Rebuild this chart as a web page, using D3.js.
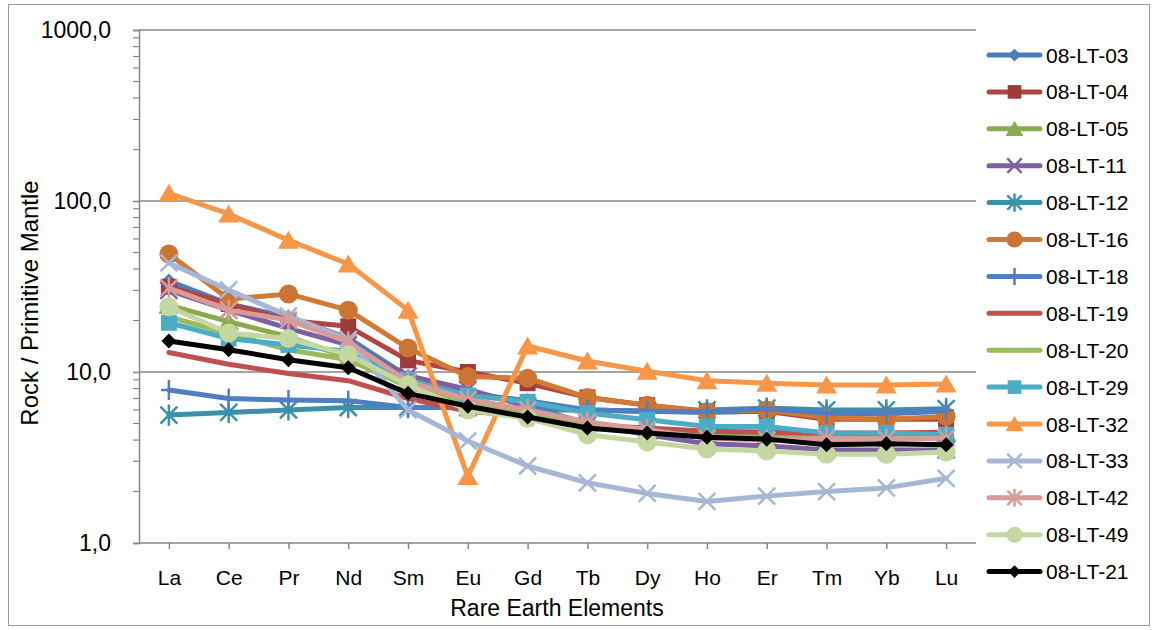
<!DOCTYPE html>
<html>
<head>
<meta charset="utf-8">
<script src="https://cdn.jsdelivr.net/npm/d3@7"></script>
<style>
  html, body { margin: 0; padding: 0; background: #ffffff; }
  svg { display: block; }
  text { font-family: "Liberation Sans", Arial, sans-serif; fill: #000; }
</style>
</head>
<body>
<svg id="chart" width="1154" height="630"></svg>
<script>
// ---------- data ----------
const elements = ["La","Ce","Pr","Nd","Sm","Eu","Gd","Tb","Dy","Ho","Er","Tm","Yb","Lu"];
const seriesNames = ["08-LT-03","08-LT-04","08-LT-05","08-LT-11","08-LT-12","08-LT-16","08-LT-18","08-LT-19","08-LT-20","08-LT-29","08-LT-32","08-LT-33","08-LT-42","08-LT-49","08-LT-21"];
const lt03 = [34, 25, 21, 15.8, 9.4, 7.5, 6.8, 6.0, 5.9, 5.8, 5.9, 5.7, 5.7, 5.9];
const lt04 = [31.5, 25, 20, 18.5, 11.7, 10.0, 8.6, 7.1, 6.4, 5.9, 5.9, 5.3, 5.3, 5.3];
const lt05 = [24.6, 19.7, 16.1, 12.1, 8.6, 7.0, 5.9, 5.0, 4.5, 4.3, 4.3, 4.2, 4.2, 4.4];
const lt11 = [30, 23, 18, 14.4, 9.5, 7.9, 6.3, 5.0, 4.3, 3.8, 3.7, 3.5, 3.5, 3.5];
const lt12 = [5.6, 5.8, 6.0, 6.2, 6.2, 6.2, 6.0, 6.0, 5.9, 6.0, 6.15, 6.0, 6.0, 6.1];
const lt16 = [49, 26.7, 28.6, 23, 13.8, 9.4, 9.2, 7.1, 6.4, 5.85, 6.0, 5.4, 5.3, 5.5];
const lt18 = [7.85, 7.0, 6.85, 6.8, 6.2, 6.2, 6.2, 6.0, 5.9, 5.85, 6.1, 5.75, 5.75, 5.95];
const lt19 = [13, 11.1, 9.8, 8.9, 7.0, 5.9, 5.5, 4.9, 4.7, 4.5, 4.45, 4.4, 4.4, 4.45];
const lt20 = [21, 16.8, 13.5, 11.8, 8.2, 6.6, 5.6, 4.8, 4.4, 4.2, 4.1, 4.0, 4.1, 4.3];
const lt29 = [19.4, 15.7, 14.4, 13.2, 9.0, 7.3, 6.7, 5.75, 5.25, 4.8, 4.8, 4.4, 4.4, 4.3];
const lt32 = [111, 84, 59, 42.8, 23, 2.45, 14.2, 11.6, 10.1, 8.9, 8.6, 8.4, 8.4, 8.5];
const lt33 = [43.4, 30.2, 21.3, 15.5, 6.0, 3.95, 2.82, 2.25, 1.95, 1.75, 1.88, 2.0, 2.1, 2.39];
const lt42 = [31, 23, 20.1, 15.0, 8.8, 6.9, 6.0, 5.1, 4.6, 4.1, 4.0, 4.1, 4.05, 4.1];
const lt49 = [24.1, 16.9, 15.7, 12.6, 8.4, 6.0, 5.35, 4.3, 3.9, 3.55, 3.45, 3.3, 3.3, 3.4];
const lt21 = [15.2, 13.5, 11.8, 10.6, 7.5, 6.3, 5.45, 4.7, 4.4, 4.15, 4.05, 3.75, 3.8, 3.75];
const seriesValues = [lt03, lt04, lt05, lt11, lt12, lt16, lt18, lt19, lt20, lt29, lt32, lt33, lt42, lt49, lt21];
const yTickValues = [1, 10, 100, 1000];
const yTitle = "Rock / Primitive Mantle";
const xTitle = "Rare Earth Elements";

// ---------- styles ----------
const styles = [
  {line:"#4A7EBB", mark:"#4A7EBB", shape:"diamond"},
  {line:"#B04543", mark:"#9C3B38", shape:"square"},
  {line:"#89AB4C", mark:"#89AB4C", shape:"triangle"},
  {line:"#7D60A0", mark:"#7D60A0", shape:"x"},
  {line:"#3A91A8", mark:"#3A91A8", shape:"star"},
  {line:"#D07A36", mark:"#CC7433", shape:"circle"},
  {line:"#4F7FC0", mark:"#4F7FC0", shape:"plus"},
  {line:"#C0504D", mark:"#C0504D", shape:"none"},
  {line:"#9BBB59", mark:"#9BBB59", shape:"none"},
  {line:"#4BACC6", mark:"#4BACC6", shape:"square"},
  {line:"#F79646", mark:"#F79646", shape:"triangle"},
  {line:"#A6B7D6", mark:"#A6B7D6", shape:"x"},
  {line:"#D99B99", mark:"#D99B99", shape:"star"},
  {line:"#C4D7A0", mark:"#C4D7A0", shape:"circle"},
  {line:"#000000", mark:"#000000", shape:"diamond"}
];

const svg = d3.select("#chart");
const plot = {left: 139, right: 976, top: 30, bottom: 543};

// outer border
svg.append("rect").attr("x", 8.5).attr("y", 4.5).attr("width", 1141).attr("height", 621)
  .attr("fill", "#fff").attr("stroke", "#9a9a9a").attr("stroke-width", 1);

const x = d3.scalePoint().domain(elements).range([plot.left, plot.right]).padding(0.5);
const y = d3.scaleLog().domain([1, 1000]).range([plot.bottom, plot.top]);

const gridColor = "#868686";
// gridlines
svg.append("g").selectAll("line").data(yTickValues.filter(v => v > 1)).join("line")
  .attr("x1", plot.left).attr("x2", plot.right)
  .attr("y1", d => y(d)).attr("y2", d => y(d))
  .attr("stroke", gridColor).attr("stroke-width", 1.5);

// y axis (log) with minor ticks
const minorTicks = [];
for (let d = 1; d < 1000; d *= 10) for (let k = 2; k <= 9; k++) minorTicks.push(d * k);
const yAxis = d3.axisLeft(y).tickValues(yTickValues)
  .tickFormat(d => d3.format(".1f")(d).replace(".", ","))
  .tickSize(6).tickPadding(22);
const yg = svg.append("g").attr("transform", `translate(${plot.left},0)`).call(yAxis);
yg.select(".domain").attr("stroke", gridColor).attr("stroke-width", 1.5);
yg.selectAll(".tick line").attr("stroke", gridColor).attr("stroke-width", 1.5);
yg.selectAll(".tick text").attr("font-size", 23).attr("font-family", "Liberation Sans, Arial, sans-serif").attr("fill", "#000");
svg.append("g").selectAll("line").data(minorTicks).join("line")
  .attr("x1", plot.left - 6).attr("x2", plot.left)
  .attr("y1", d => y(d)).attr("y2", d => y(d))
  .attr("stroke", gridColor).attr("stroke-width", 1.2);

// x axis
const xAxis = d3.axisBottom(x).tickSize(6).tickPadding(21).tickSizeOuter(0);
const xg = svg.append("g").attr("transform", `translate(0,${plot.bottom})`).call(xAxis);
xg.select(".domain").attr("stroke", gridColor).attr("stroke-width", 1.5)
  .attr("d", `M${plot.left},0H${plot.right}`);
xg.selectAll(".tick line").attr("stroke", gridColor).attr("stroke-width", 1.5);
xg.selectAll(".tick text").attr("font-size", 21).attr("font-family", "Liberation Sans, Arial, sans-serif").attr("fill", "#000");

// axis titles
svg.append("text").attr("x", 557).attr("y", 616).attr("text-anchor", "middle")
  .attr("font-size", 23).text(xTitle);
svg.append("text").attr("transform", "translate(38,303) rotate(-90)").attr("text-anchor", "middle")
  .attr("font-size", 24).text(yTitle);

// marker drawing
function drawMarker(g, shape, color, cx, cy, s) {
  s = s || 1;
  switch (shape) {
    case "diamond": {
      const r = 7.5 * s;
      g.append("path").attr("d", `M${cx},${cy - r}L${cx + r},${cy}L${cx},${cy + r}L${cx - r},${cy}Z`).attr("fill", color);
      break; }
    case "square": {
      const h = 8 * s;
      g.append("rect").attr("x", cx - h).attr("y", cy - h).attr("width", 2 * h).attr("height", 2 * h).attr("fill", color);
      break; }
    case "triangle": {
      const w = 10.5 * s;
      g.append("path").attr("d", `M${cx},${cy - 9.5 * s}L${cx + w},${cy + 8.5 * s}L${cx - w},${cy + 8.5 * s}Z`).attr("fill", color);
      break; }
    case "circle":
      g.append("circle").attr("cx", cx).attr("cy", cy).attr("r", 9.5 * s).attr("fill", color);
      break;
    case "x": {
      const r = 8.5 * s;
      g.append("path").attr("d", `M${cx - r},${cy - r}L${cx + r},${cy + r}M${cx - r},${cy + r}L${cx + r},${cy - r}`)
        .attr("stroke", color).attr("stroke-width", 2.5).attr("fill", "none");
      break; }
    case "star": {
      const r = 8.5 * s;
      g.append("path").attr("d", `M${cx - r},${cy - r}L${cx + r},${cy + r}M${cx - r},${cy + r}L${cx + r},${cy - r}M${cx},${cy - r * 1.25}L${cx},${cy + r * 1.25}`)
        .attr("stroke", color).attr("stroke-width", 2.5).attr("fill", "none");
      break; }
    case "plus": {
      const r = 10 * s;
      g.append("path").attr("d", `M${cx},${cy - r}L${cx},${cy + r}M${cx - r * 0.8},${cy}L${cx + r * 0.8},${cy}`)
        .attr("stroke", color).attr("stroke-width", 2.5).attr("fill", "none");
      break; }
  }
}

// series
const line = d3.line().x((d, i) => x(elements[i])).y(d => y(d));
const seriesG = svg.append("g");
seriesValues.forEach((vals, si) => {
  const st = styles[si];
  const g = seriesG.append("g");
  g.append("path").datum(vals).attr("d", line).attr("fill", "none")
    .attr("stroke", st.line).attr("stroke-width", 5)
    .attr("stroke-linejoin", "round").attr("stroke-linecap", "round");
  vals.forEach((v, i) => drawMarker(g, st.shape, st.mark, x(elements[i]), y(v), 1));
});

// legend
const legend = svg.append("g");
seriesNames.forEach((name, i) => {
  const st = styles[i];
  const ly = 55 + i * 36.9;
  const g = legend.append("g");
  g.append("line").attr("x1", 989).attr("x2", 1040).attr("y1", ly).attr("y2", ly)
    .attr("stroke", st.line).attr("stroke-width", 5).attr("stroke-linecap", "round");
  drawMarker(g, st.shape, st.mark, 1014.5, ly, 0.85);
  g.append("text").attr("x", 1046).attr("y", ly).attr("dy", "0.36em")
    .attr("font-size", 21).text(name);
});
</script>
</body>
</html>
